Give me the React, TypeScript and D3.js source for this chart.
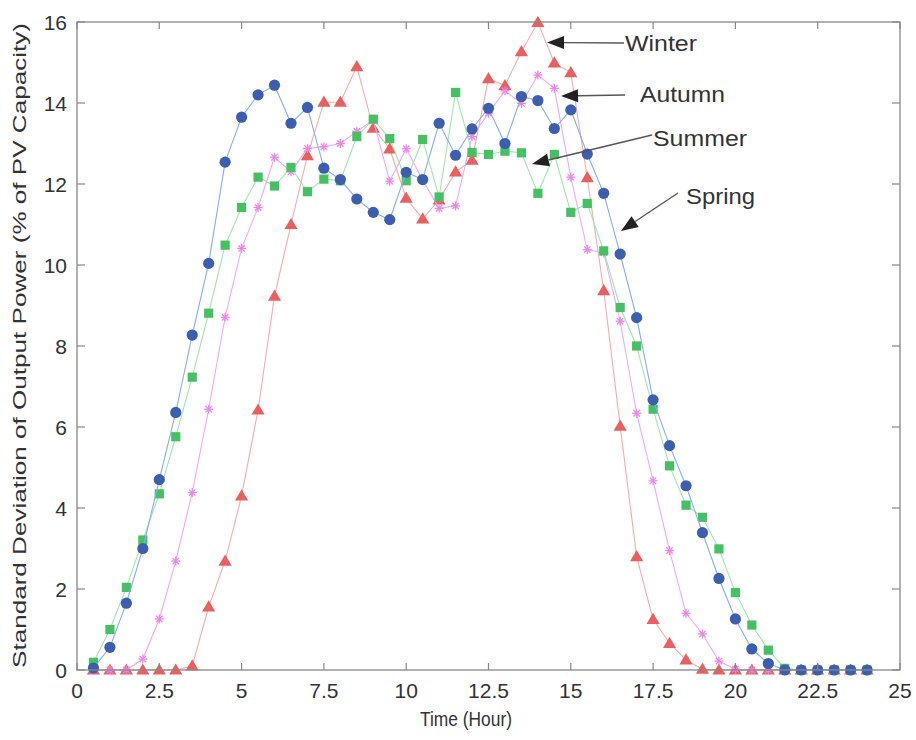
import React from "react";
import * as d3 from "d3";

const hours: number[] = d3.range(0.5, 24.01, 0.5);

const winter: number[] = [
  0, 0, 0, 0, 0, 0, 0.1, 1.56, 2.69, 4.3, 6.42, 9.23, 11.0, 12.7, 14.02, 14.02,
  14.9, 13.38, 12.87, 11.65, 11.14, 11.61, 12.3, 12.59, 14.6, 14.43, 15.27, 15.99,
  14.99, 14.75, 12.16, 9.37, 6.02, 2.8, 1.25, 0.66, 0.25, 0.02, 0, 0, 0, 0, 0, 0,
  0, 0, 0, 0,
];
const autumn: number[] = [
  0, 0, 0, 0.27, 1.26, 2.69, 4.38, 6.44, 8.71, 10.41, 11.42, 12.66, 12.3, 12.88,
  12.92, 13.0, 13.3, 13.58, 12.07, 12.87, 12.1, 11.4, 11.46, 13.17, 13.75, 14.3,
  13.99, 14.69, 14.36, 12.17, 10.38, 10.3, 8.61, 6.34, 4.67, 2.95, 1.4, 0.89,
  0.22, 0.02, 0, 0, 0, 0, 0, 0, 0, 0,
];
const summer: number[] = [
  0.19, 1.0, 2.04, 3.21, 4.35, 5.76, 7.23, 8.81, 10.49, 11.42, 12.17, 11.95, 12.41,
  11.81, 12.12, 12.08, 13.17, 13.6, 13.12, 12.08, 13.1, 11.68, 14.26, 12.78, 12.73,
  12.81, 12.77, 11.77, 12.73, 11.3, 11.52, 10.35, 8.95, 8.0, 6.44, 5.04, 4.07,
  3.77, 2.99, 1.91, 1.11, 0.49, 0.04, 0, 0, 0, 0, 0,
];
const spring: number[] = [
  0.05, 0.56, 1.65, 3.0, 4.7, 6.36, 8.27, 10.04, 12.54, 13.65, 14.2, 14.44, 13.5,
  13.89, 12.39, 12.11, 11.63, 11.3, 11.12, 12.29, 12.11, 13.5, 12.71, 13.36, 13.87,
  13.0, 14.16, 14.06, 13.37, 13.83, 12.74, 11.77, 10.27, 8.7, 6.67, 5.54, 4.55,
  3.39, 2.26, 1.26, 0.52, 0.16, 0, 0, 0, 0, 0, 0,
];

const xTicks: number[] = [0, 2.5, 5, 7.5, 10, 12.5, 15, 17.5, 20, 22.5, 25];
const yTicks: number[] = [0, 2, 4, 6, 8, 10, 12, 14, 16];

const seasonLabels: string[] = ["Winter", "Autumn", "Summer", "Spring"];

const W = 916;
const H = 740;
const L = 77;
const R = 900;
const T = 22;
const B = 670;

const x = d3.scaleLinear().domain([0, 25]).range([L, R]);
const y = d3.scaleLinear().domain([0, 16]).range([B, T]);

type Marker = "tri" | "star" | "sq" | "circ";

const series: { name: string; values: number[]; line: string; fill: string; marker: Marker }[] = [
  { name: "Winter", values: winter, line: "#f7aaaa", fill: "#ea5f5f", marker: "tri" },
  { name: "Autumn", values: autumn, line: "#f3a8f0", fill: "#ec86e8", marker: "star" },
  { name: "Summer", values: summer, line: "#9fe6ad", fill: "#45c163", marker: "sq" },
  { name: "Spring", values: spring, line: "#86aee9", fill: "#3b5eae", marker: "circ" },
];

function MarkerShape({ type, cx, cy, fill }: { type: Marker; cx: number; cy: number; fill: string }) {
  if (type === "circ") return <circle cx={cx} cy={cy} r={5.6} fill={fill} />;
  if (type === "sq") return <rect x={cx - 4.6} y={cy - 4.6} width={9.2} height={9.2} fill={fill} />;
  if (type === "tri") {
    const s = 6.6;
    return (
      <path
        d={`M${cx},${cy - s} L${cx + s},${cy + s * 0.7} L${cx - s},${cy + s * 0.7} Z`}
        fill={fill}
      />
    );
  }
  const s = 4.5;
  const d = 3.2;
  return (
    <g stroke={fill} strokeWidth={1.3}>
      <line x1={cx - s} y1={cy} x2={cx + s} y2={cy} />
      <line x1={cx} y1={cy - s} x2={cx} y2={cy + s} />
      <line x1={cx - d} y1={cy - d} x2={cx + d} y2={cy + d} />
      <line x1={cx - d} y1={cy + d} x2={cx + d} y2={cy - d} />
    </g>
  );
}

function Arrow({ x1, y1, x2, y2 }: { x1: number; y1: number; x2: number; y2: number }) {
  const ang = Math.atan2(y2 - y1, x2 - x1);
  const len = 17;
  const hw = 6.5;
  const bx = x2 - len * Math.cos(ang);
  const by = y2 - len * Math.sin(ang);
  const px = -Math.sin(ang) * hw;
  const py = Math.cos(ang) * hw;
  return (
    <g>
      <line x1={x1} y1={y1} x2={bx} y2={by} stroke="#555" strokeWidth={1.3} />
      <path d={`M${x2},${y2} L${bx + px},${by + py} L${bx - px},${by - py} Z`} fill="#222" />
    </g>
  );
}

export default function App() {
  const lineGen = d3
    .line<number>()
    .x((_, i) => x(hours[i]))
    .y((v) => y(v));

  const font = "Liberation Sans, Arial, Helvetica, sans-serif";

  const annotations = [
    { text: seasonLabels[0], tx: 625, ty: 51, tl: 72, ax1: 624, ay1: 43, ax2: 547, ay2: 42.5 },
    { text: seasonLabels[1], tx: 640, ty: 102, tl: 85, ax1: 625, ay1: 95, ax2: 561, ay2: 96 },
    { text: seasonLabels[2], tx: 653, ty: 146, tl: 94, ax1: 652, ay1: 135, ax2: 532, ay2: 164 },
    { text: seasonLabels[3], tx: 686, ty: 204, tl: 69, ax1: 678, ay1: 193, ax2: 621, ay2: 231 },
  ];

  return (
    <svg width={W} height={H} style={{ position: "absolute", left: 0, top: 0, background: "#fff" }}>
      <rect x={0} y={0} width={W} height={H} fill="#fff" />
      {series.map((s) => (
        <g key={s.name}>
          <path d={lineGen(s.values) || ""} fill="none" stroke={s.line} strokeWidth={1.1} />
          {s.values.map((v, i) => (
            <MarkerShape key={i} type={s.marker} cx={x(hours[i])} cy={y(v)} fill={s.fill} />
          ))}
        </g>
      ))}
      <rect x={L} y={T} width={R - L} height={B - T} fill="none" stroke="#888" strokeWidth={1.3} />
      {xTicks.map((t) => (
        <g key={"xt" + t}>
          <line x1={x(t)} x2={x(t)} y1={B} y2={B - 7} stroke="#888" strokeWidth={1.2} />
          <line x1={x(t)} x2={x(t)} y1={T} y2={T + 7} stroke="#888" strokeWidth={1.2} />
          <text x={x(t)} y={698} textAnchor="middle" fontFamily={font} fontSize={21} fill="#333">
            {t}
          </text>
        </g>
      ))}
      {yTicks.map((t) => (
        <g key={"yt" + t}>
          <line x1={L} x2={L + 8} y1={y(t)} y2={y(t)} stroke="#888" strokeWidth={1.2} />
          <line x1={R} x2={R - 8} y1={y(t)} y2={y(t)} stroke="#888" strokeWidth={1.2} />
          <text x={67} y={y(t) + 7.5} textAnchor="end" fontFamily={font} fontSize={21} fill="#333">
            {t}
          </text>
        </g>
      ))}
      <text
        x={420}
        y={726}
        textAnchor="start"
        fontFamily={font}
        fontSize={21}
        fill="#333"
        textLength={92}
        lengthAdjust="spacingAndGlyphs"
      >
        Time (Hour)
      </text>
      <text
        transform={`translate(26,${B - 2}) rotate(-90)`}
        textAnchor="start"
        fontFamily={font}
        fontSize={18}
        fill="#333"
        textLength={645}
        lengthAdjust="spacingAndGlyphs"
      >
        Standard Deviation of Output Power (% of PV Capacity)
      </text>
      {annotations.map((a) => (
        <g key={a.text}>
          <Arrow x1={a.ax1} y1={a.ay1} x2={a.ax2} y2={a.ay2} />
          <text
            x={a.tx}
            y={a.ty}
            fontFamily={font}
            fontSize={22}
            fill="#333"
            textLength={a.tl}
            lengthAdjust="spacingAndGlyphs"
          >
            {a.text}
          </text>
        </g>
      ))}
    </svg>
  );
}
